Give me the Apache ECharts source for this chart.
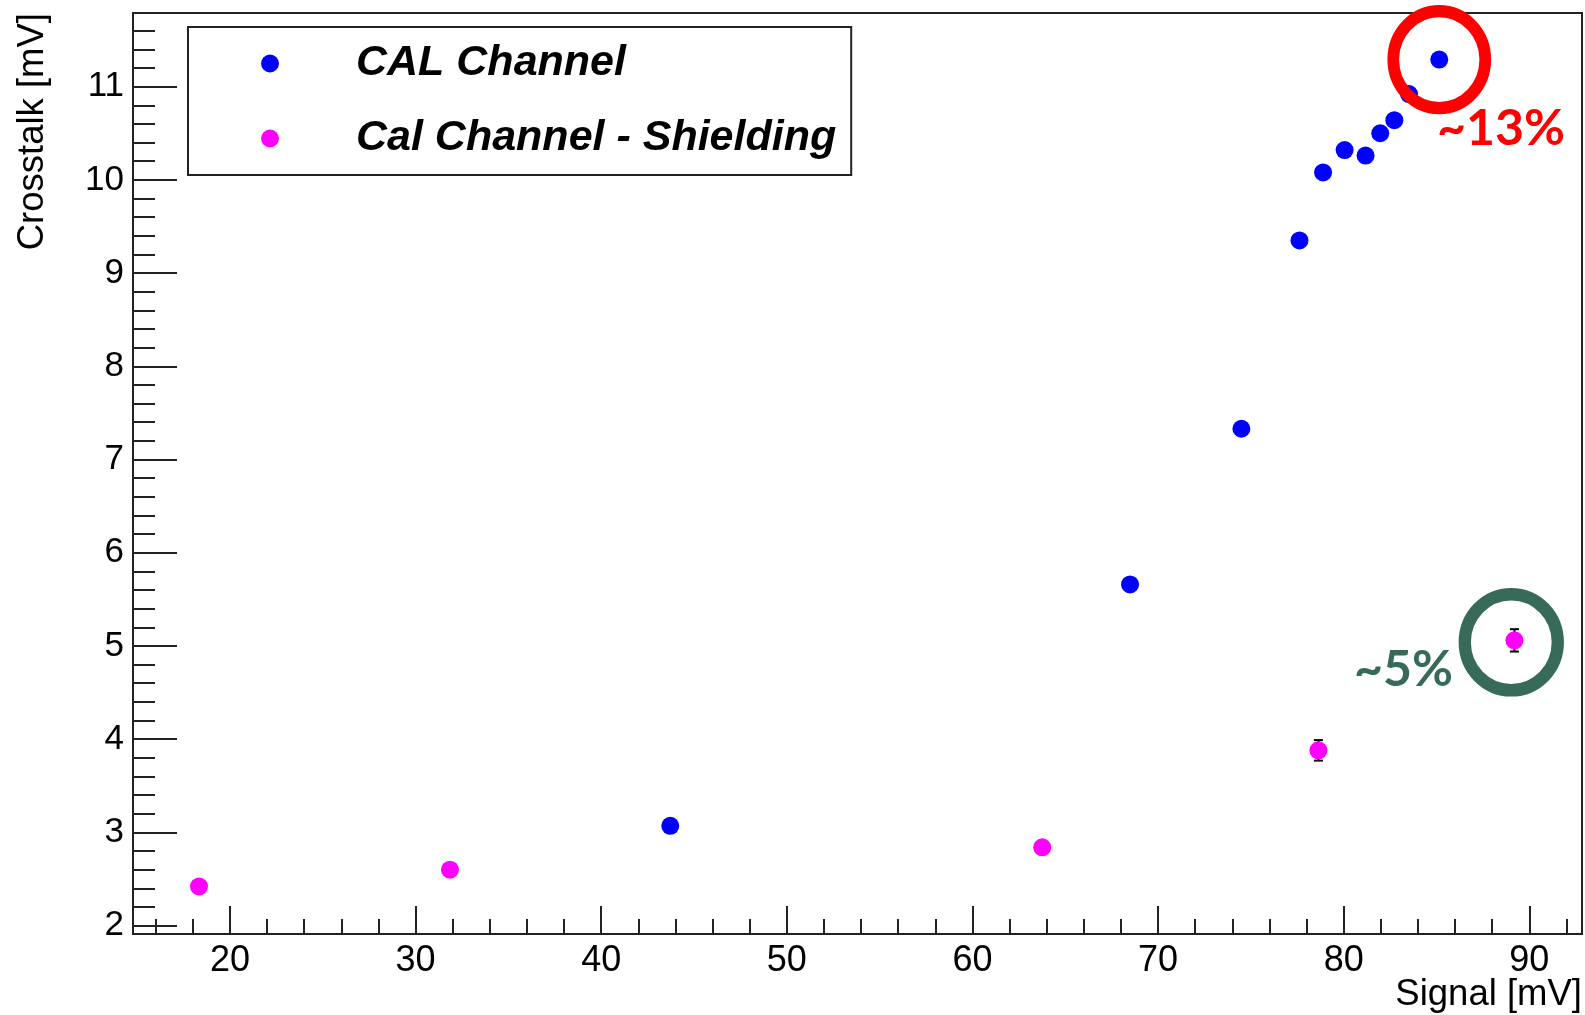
<!DOCTYPE html>
<html><head><meta charset="utf-8">
<script src="https://cdn.jsdelivr.net/npm/echarts@6/dist/echarts.min.js"></script>
<style>html,body{margin:0;padding:0;background:#fff}#c{width:1585px;height:1015px}</style>
</head><body><div id="c"></div><script>
// ---- data ----
const calName = 'CAL Channel';
const calX = [43.72, 68.49, 74.49, 77.62, 78.89, 80.05, 81.18, 81.97, 82.73, 83.52, 85.15];
const calY = [3.07, 5.66, 7.33, 9.35, 10.08, 10.32, 10.26, 10.50, 10.64, 10.92, 11.29];
const shieldName = 'Cal Channel - Shielding';
const shieldX = [18.33, 31.85, 63.76, 78.64, 89.20];
const shieldY = [2.42, 2.60, 2.84, 3.88, 5.06];
const shieldErr = [0.02, 0.02, 0.03, 0.11, 0.12];
// ---- axis ticks ----
const xMajor = [20, 30, 40, 50, 60, 70, 80, 90];
const xMinor = [16, 18, 22, 24, 26, 28, 32, 34, 36, 38, 42, 44, 46, 48, 52, 54, 56, 58, 62, 64, 66, 68, 72, 74, 76, 78, 82, 84, 86, 88, 92];
const yMajor = [2, 3, 4, 5, 6, 7, 8, 9, 10, 11];
const yMinor = [2.2, 2.4, 2.6, 2.8, 3.2, 3.4, 3.6, 3.8, 4.2, 4.4, 4.6, 4.8, 5.2, 5.4, 5.6, 5.8, 6.2, 6.4, 6.6, 6.8, 7.2, 7.4, 7.6, 7.8, 8.2, 8.4, 8.6, 8.8, 9.2, 9.4, 9.6, 9.8, 10.2, 10.4, 10.6, 10.8, 11.2, 11.4, 11.6];
const xRange = [14.774, 92.84];
const yRange = [1.91, 11.79];
// annotations
const redNote = {text: '~13%', at: [85.15, 11.29]};
const greenNote = {text: '~5%', at: [89.03, 5.04]};

const calData = calX.map((x, i) => [x, calY[i]]);
const shieldData = shieldX.map((x, i) => [x, shieldY[i]]);
const errData = shieldX.map((x, i) => [x, shieldY[i], shieldErr[i]]);

const AX = '#222';
const FONT = 'Liberation Sans';

function hiddenAxis(type, pos, min, max, ticks, len) {
  return {
    type: 'value', position: pos, min: min, max: max,
    axisLine: {show: false}, splitLine: {show: false},
    axisLabel: {show: false},
    axisTick: {show: true, inside: true, length: len, customValues: ticks, lineStyle: {color: AX, width: 2}}
  };
}

const chart = echarts.init(document.getElementById('c'), null, {renderer: 'canvas'});
chart.setOption({
  animation: false,
  backgroundColor: '#fff',
  grid: {left: 133, right: 3, top: 13, bottom: 81, show: true, borderColor: AX, borderWidth: 2,
         backgroundColor: '#fff', containLabel: false, outerBoundsMode: 'none'},
  legend: {
    orient: 'vertical', left: 188, top: 27,
    padding: [15, 15, 15, 73],
    itemWidth: 162, itemHeight: 18, itemGap: 32,
    borderColor: AX, borderWidth: 2, backgroundColor: '#fff',
    textStyle: {fontFamily: FONT, fontSize: 43, fontWeight: 'bold', fontStyle: 'italic', color: '#000', lineHeight: 43},
    data: [calName, shieldName],
    selectedMode: false
  },
  xAxis: [
    {
      type: 'value', position: 'bottom', min: xRange[0], max: xRange[1],
      name: 'Signal [mV]', nameLocation: 'end', nameGap: 0, nameMoveOverlap: false,
      nameTextStyle: {fontFamily: FONT, fontSize: 36.5, color: '#000', align: 'right', verticalAlign: 'top', padding: [42, 0, 0, 0]},
      axisLine: {show: true, lineStyle: {color: AX, width: 2}},
      splitLine: {show: false},
      axisTick: {show: true, inside: true, length: 28, customValues: xMajor, lineStyle: {color: AX, width: 2}},
      axisLabel: {show: true, customValues: xMajor, margin: 9, fontFamily: FONT, fontSize: 36, color: '#000'}
    },
    hiddenAxis('x', 'bottom', xRange[0], xRange[1], xMinor, 15)
  ],
  yAxis: [
    {
      type: 'value', position: 'left', min: yRange[0], max: yRange[1],
      name: 'Crosstalk [mV]', nameLocation: 'end', nameGap: 0, nameRotate: 90, nameMoveOverlap: false,
      nameTextStyle: {fontFamily: FONT, fontSize: 36.5, color: '#000', align: 'right', verticalAlign: 'bottom', lineHeight: 37, padding: [0, 0, 82, 0]},
      axisLine: {show: true, lineStyle: {color: AX, width: 2}},
      splitLine: {show: false},
      axisTick: {show: true, inside: true, length: 44, customValues: yMajor, lineStyle: {color: AX, width: 2}},
      axisLabel: {show: true, customValues: yMajor, margin: 9, fontFamily: FONT, fontSize: 35, color: '#000'}
    },
    hiddenAxis('y', 'left', yRange[0], yRange[1], yMinor, 22)
  ],
  series: [
    {
      name: 'errors', type: 'custom', xAxisIndex: 0, yAxisIndex: 0, z: 1,
      data: errData, encode: {x: 0, y: 1}, silent: true,
      renderItem: function (params, api) {
        const x = api.value(0), y = api.value(1), e = api.value(2);
        const t = api.coord([x, y + e]), b = api.coord([x, y - e]);
        const hw = 4.5, st = {stroke: '#000', lineWidth: 2};
        return {type: 'group', children: [
          {type: 'line', shape: {x1: t[0], y1: t[1], x2: b[0], y2: b[1]}, style: st},
          {type: 'line', shape: {x1: t[0] - hw, y1: t[1], x2: t[0] + hw, y2: t[1]}, style: st},
          {type: 'line', shape: {x1: b[0] - hw, y1: b[1], x2: b[0] + hw, y2: b[1]}, style: st}
        ]};
      }
    },
    {
      name: calName, type: 'scatter', symbol: 'circle', symbolSize: 18, z: 3,
      itemStyle: {color: '#0000ff', opacity: 1}, data: calData,
      markPoint: {
        silent: true, symbol: 'circle', symbolSize: [92, 97], label: {show: false},
        itemStyle: {color: 'rgba(0,0,0,0)', borderColor: '#ff0000', borderWidth: 12},
        data: [{coord: redNote.at}]
      }
    },
    {
      name: shieldName, type: 'scatter', symbol: 'circle', symbolSize: 18, z: 3,
      itemStyle: {color: '#ff00ff', opacity: 1}, data: shieldData,
      markPoint: {
        silent: true, symbol: 'circle', symbolSize: [93, 96], label: {show: false},
        itemStyle: {color: 'rgba(0,0,0,0)', borderColor: '#386a59', borderWidth: 12.5},
        data: [{coord: greenNote.at}]
      }
    }
  ],
  graphic: [
    {type: 'text', x: 1437, y: 128.5, z: 10, style: {text: redNote.text, fontFamily: 'Lato', fontWeight: 'bold', fontSize: 50, fill: '#ff0000', align: 'left', verticalAlign: 'middle'}},
    {type: 'text', x: 1354, y: 669.5, z: 10, style: {text: greenNote.text, fontFamily: 'Lato', fontWeight: 'bold', fontSize: 50, fill: '#386a59', align: 'left', verticalAlign: 'middle'}}
  ]
});
</script></body></html>
